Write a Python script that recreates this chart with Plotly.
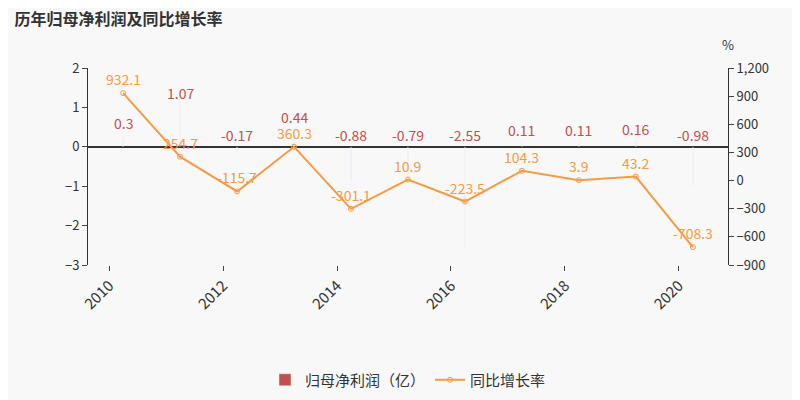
import plotly.graph_objects as go

dates = ["2010-03-31","2011-03-31","2012-03-31","2013-03-31","2014-03-31","2015-03-31","2016-03-31","2017-03-31","2018-03-31","2019-03-31","2020-03-31"]
profit = [0.3,1.07,-0.17,0.44,-0.88,-0.79,-2.55,0.11,0.11,0.16,-0.98]
growth = [932.1,254.7,-115.7,360.3,-301.1,10.9,-223.5,104.3,3.9,43.2,-708.3]

bar_c = "#c0504d"
line_c = "#f59a45"
font = "Noto Sans CJK SC"

fig = go.Figure()
fig.add_bar(x=dates, y=profit, name="归母净利润（亿）", marker_color=bar_c, width=0.7, yaxis="y")
fig.add_scatter(x=dates, y=growth, name="同比增长率", yaxis="y2", mode="lines+markers",
                line=dict(color=line_c, width=2), marker=dict(symbol="circle-open", size=5, color=line_c))
ann = []
for d, v in zip(dates, profit):
    ann.append(dict(x=d, y=max(v, 0), yref="y", text=str(v), showarrow=False, yshift=12,
                    font=dict(color=bar_c, size=14)))
for d, v in zip(dates, growth):
    ann.append(dict(x=d, y=v, yref="y2", text=str(v), showarrow=False, yshift=14,
                    font=dict(color=line_c, size=14)))
ann.append(dict(x=1.0, xref="paper", y=1.06, yref="paper", xanchor="center", yanchor="bottom", text="%",
                showarrow=False, font=dict(size=13, color="#333")))

fig.update_layout(
    width=800, height=400, paper_bgcolor="#f8f8f8", plot_bgcolor="#f8f8f8",
    margin=dict(l=80, r=80, t=60, b=115),
    font=dict(family=font, color="#333", size=13),
    title=dict(text="<b>历年归母净利润及同比增长率</b>", x=0.008, xanchor="left", y=0.985, yanchor="top",
               font=dict(size=16, color="#333")),
    annotations=ann, showlegend=True,
    legend=dict(orientation="h", x=0.5, xanchor="center", y=-0.5, yanchor="top", font=dict(size=15)),
    xaxis=dict(tickangle=-45, tickfont=dict(size=15), showline=False, ticks="outside"),
    yaxis=dict(range=[-3, 2], dtick=1, showgrid=False, zeroline=True, zerolinecolor="#333",
               showline=True, linecolor="#333", ticks="outside"),
    yaxis2=dict(range=[-900, 1200], dtick=300, overlaying="y", side="right", showgrid=False,
                zeroline=False, showline=True, linecolor="#333", ticks="outside", tickformat=",d"),
)
fig.write_html("out.html")
